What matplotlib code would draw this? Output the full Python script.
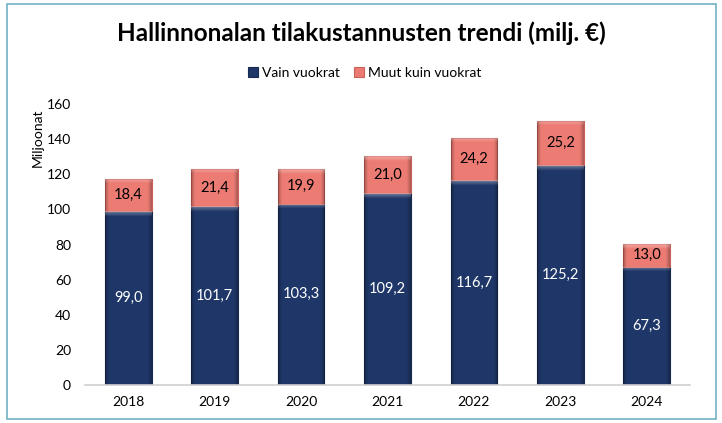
import matplotlib
matplotlib.use("Agg")
import matplotlib.pyplot as plt
from matplotlib.patches import Rectangle
import numpy as np

years = ["2018", "2019", "2020", "2021", "2022", "2023", "2024"]
vain_vuokrat = [99.0, 101.7, 103.3, 109.2, 116.7, 125.2, 67.3]
muut = [18.4, 21.4, 19.9, 21.0, 24.2, 25.2, 13.0]
yticks = [0, 20, 40, 60, 80, 100, 120, 140, 160]

plt.rcParams['font.family'] = ['Lato', 'DejaVu Sans']

BLUE = "#1F3768"
BLUE_EDGE = "#172A52"
RED = "#EC7C73"
RED_EDGE = "#C9605A"

fig = plt.figure(figsize=(7.22, 4.23), dpi=100)
fig.patches.append(Rectangle((7/722, 4/423), 709/722, 415/423, transform=fig.transFigure,
                             fill=False, edgecolor="#72B3C2", linewidth=1.2))

ax = fig.add_axes([85/722, 38/423, 605/722, 281/423])
x = np.arange(len(years))
w = 0.54
b1 = ax.bar(x, vain_vuokrat, w, color=BLUE, edgecolor=BLUE_EDGE, linewidth=0.8,
            label="Vain vuokrat", zorder=3)
b2 = ax.bar(x, muut, w, bottom=vain_vuokrat, color=RED, edgecolor=RED_EDGE, linewidth=0.8,
            label="Muut kuin vuokrat", zorder=3)

ax.set_ylim(0, 160)
ax.set_xlim(-0.5, len(years) - 0.5)

# subtle bevel shading over each bar segment
nx, ny = 40, 200
gx = np.linspace(0, 1, nx)
edge_dark = np.clip(1 - np.minimum(gx, 1 - gx) / 0.08, 0, 1) * 0.25
for patch in list(b1.patches) + list(b2.patches):
    x0, y0 = patch.get_x(), patch.get_y()
    pw, ph = patch.get_width(), patch.get_height()
    # lighter strip at the top (~5 px)
    top_h = 5 * 160 / 281
    rgba = np.zeros((ny, nx, 4))
    gy = np.linspace(0, ph, ny)[:, None]  # from bottom to top
    light = np.clip((gy - (ph - top_h)) / top_h, 0, 1) * 0.35
    rgba[..., :3] = 1.0
    rgba[..., 3] = light * np.ones((1, nx))
    im = ax.imshow(rgba, extent=(x0, x0 + pw, y0, y0 + ph), origin="lower",
                   aspect="auto", zorder=3.5, interpolation="bilinear")
    im.set_clip_path(patch)
    dark = np.zeros((ny, nx, 4))
    dark[..., 3] = edge_dark[None, :]
    im2 = ax.imshow(dark, extent=(x0, x0 + pw, y0, y0 + ph), origin="lower",
                    aspect="auto", zorder=3.4, interpolation="bilinear")
    im2.set_clip_path(patch)

for xi, v, m in zip(x, vain_vuokrat, muut):
    ax.text(xi, v / 2, f"{v:.1f}".replace(".", ","), ha="center", va="center",
            color="white", fontsize=10.5, zorder=4)
    ax.text(xi, v + m / 2, f"{m:.1f}".replace(".", ","), ha="center", va="center",
            color="black", fontsize=10.5, zorder=4)

ax.set_ylim(0, 160)
ax.set_xlim(-0.5, len(years) - 0.5)
ax.set_aspect("auto")
ax.set_yticks(yticks)
ax.set_xticks(x)
ax.set_xticklabels(years)
ax.tick_params(axis="both", length=0, labelsize=10)
ax.tick_params(axis="y", pad=10)
ax.tick_params(axis="x", pad=8)
for s in ["top", "right", "left"]:
    ax.spines[s].set_visible(False)
ax.spines["bottom"].set_color("#D0D0D0")
ax.spines["bottom"].set_linewidth(1.2)
ax.spines["bottom"].set_zorder(5)
ax.set_ylabel("Miljoonat", fontsize=10, labelpad=2)
ax.yaxis.label.set_y(0.88)

fig.text(0.501, 1 - 33/423, "Hallinnonalan tilakustannusten trendi (milj. €)",
         ha="center", va="center", fontsize=17.5, fontweight="bold")
fig.legend(handles=[b1, b2], loc="center", bbox_to_anchor=(0.505, 1 - 73/423), ncol=2,
           frameon=False, fontsize=10, handlelength=0.7, handleheight=0.7,
           handletextpad=0.3, columnspacing=1.0)

fig.savefig("out.png", dpi=100)
